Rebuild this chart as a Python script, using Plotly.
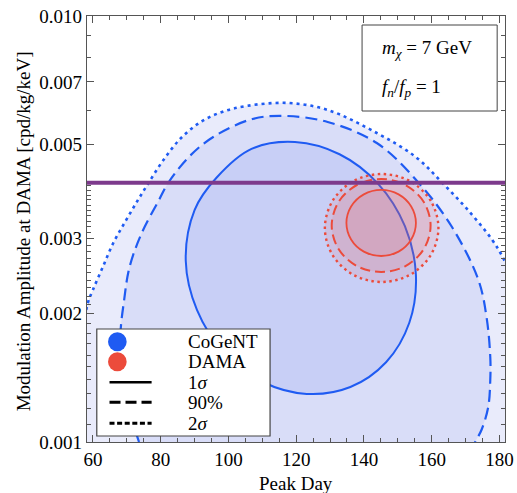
import plotly.graph_objects as go

# ---------------- data ----------------
# CoGeNT 2-sigma contour (peak day, modulation amplitude [cpd/kg/keV])
cogent_2s_day = [119.8, 50.4, 55.6, 58.5, 59.97, 62.9, 66.0, 69.8, 73.3, 76.4, 80.8, 86.0, 91.8,
                 98.1, 105.3, 117.5, 129.3, 143.8, 155.3, 163.2, 170.7, 177.9, 181.4, 186.3,
                 190.6, 189.2]
cogent_2s_amp = [0.000528, 0.000814, 0.001558, 0.002120, 0.002274, 0.002575, 0.002932, 0.003319,
                 0.003700, 0.004055, 0.004592, 0.005171, 0.005639, 0.005953, 0.006149, 0.006250,
                 0.006018, 0.005313, 0.004667, 0.004055, 0.003504, 0.002979, 0.002674, 0.002154,
                 0.001255, 0.000731]

# CoGeNT 90% contour
cogent_90_day = [122.7, 77.3, 73.6, 70.4, 68.6, 68.1, 69.2, 70.8, 74.4, 79.5, 82.2, 88.3, 95.5,
                 107.1, 116.9, 129.3, 143.8, 156.2, 166.0, 173.8, 176.2, 177.3, 177.3, 176.7,
                 174.7, 172.7, 168.4]
cogent_90_amp = [0.000731, 0.000837, 0.001000, 0.001221, 0.001476, 0.001783, 0.002154, 0.002575,
                 0.003094, 0.003700, 0.004055, 0.004667, 0.005200, 0.005732, 0.005826, 0.005639,
                 0.005033, 0.004055, 0.003196, 0.002401, 0.001965, 0.001583, 0.001398, 0.001208,
                 0.001067, 0.000995, 0.000837]

# CoGeNT 1-sigma contour
cogent_1s_day = [155.35, 152.1, 144.2, 132.8, 119.65, 106.8, 96.4, 90.0, 87.4, 90.7, 98.6, 110.0,
                 123.1, 136.0, 146.6, 153.4]
cogent_1s_amp = [0.002466, 0.003211, 0.004037, 0.004736, 0.005060, 0.004875, 0.004166, 0.003504,
                 0.002660, 0.002043, 0.001625, 0.001385, 0.001297, 0.001346, 0.001541, 0.001905]

# DAMA contours
dama_2s_day = [162.0, 159.74, 153.61, 145.23, 136.85, 130.72, 128.47, 130.72, 136.85, 145.23, 153.61, 159.74]
dama_2s_amp = [0.003179, 0.003679, 0.004096, 0.004257, 0.004096, 0.003679, 0.003179, 0.002748,
               0.002469, 0.002375, 0.002469, 0.002748]
dama_90_day = [159.68, 157.72, 152.38, 145.09, 137.79, 132.46, 130.49, 132.46, 137.79, 145.09, 152.38, 157.72]
dama_90_amp = [0.003223, 0.003654, 0.004006, 0.004144, 0.004006, 0.003654, 0.003223, 0.002842,
               0.002591, 0.002507, 0.002591, 0.002842]
dama_1s_day = [155.35, 153.96, 150.23, 145.09, 139.97, 136.21, 134.83, 136.21, 139.97, 145.09, 150.23, 153.96]
dama_1s_amp = [0.003266, 0.003571, 0.003813, 0.003905, 0.003813, 0.003571, 0.003266, 0.002988,
               0.002798, 0.002733, 0.002798, 0.002988]

# horizontal (purple) line level
purple_level = 0.00406

x_range = [58.24, 181.65]
x_tickvals = [60, 80, 100, 120, 140, 160, 180]
y_tickvals = [0.001, 0.002, 0.003, 0.005, 0.007, 0.010]
y_ticktext = ["0.001", "0.002", "0.003", "0.005", "0.007", "0.010"]
y_minor = [i * 1e-4 for i in range(11, 40) if i not in (20, 30)] + [0.004, 0.006, 0.008, 0.009]

legend_labels = ["CoGeNT", "DAMA", "1<i>σ</i>", "90%", "2<i>σ</i>"]

# ---------------- styling ----------------
W, H = 517, 493
ML, MR, MT, MB = 87, 3, 16, 51
FONT = "Liberation Serif"
BLUE = "#1F5BF2"
RED = "#EC4B3B"
PURPLE = "#7D3A8C"
FRAME = "#555555"


def closed(v):
    return list(v) + [v[0]]


def pxx(x):
    return (x - ML) / (W - ML - MR)


def pxy(y):
    return (H - MB - y) / (H - MT - MB)


fig = go.Figure()

cogent = [
    (cogent_2s_day, cogent_2s_amp, "#E9EBFB", "3px,4px", 2.6),
    (cogent_90_day, cogent_90_amp, "#D9DDF8", "12px,6px", 2.2),
    (cogent_1s_day, cogent_1s_amp, "#C8CFF6", "solid", 2.0),
]
for d, a, fc, dash, w in cogent:
    fig.add_trace(go.Scatter(x=closed(d), y=closed(a), mode="lines", fill="toself",
                             fillcolor=fc, line=dict(color=BLUE, width=w, dash=dash,
                                                     shape="spline", smoothing=1.0),
                             hoverinfo="skip", showlegend=False))

dama = [
    (dama_2s_day, dama_2s_amp, "2.5px,3.5px", 2.4),
    (dama_90_day, dama_90_amp, "10px,5px", 2.0),
    (dama_1s_day, dama_1s_amp, "solid", 1.8),
]
for d, a, dash, w in dama:
    fig.add_trace(go.Scatter(x=closed(d), y=closed(a), mode="lines", fill="toself",
                             fillcolor="rgba(235,90,95,0.13)",
                             line=dict(color=RED, width=w, dash=dash, shape="spline",
                                       smoothing=1.0),
                             hoverinfo="skip", showlegend=False))

# purple horizontal line across the full x range
fig.add_trace(go.Scatter(x=x_range, y=[purple_level, purple_level], mode="lines",
                         line=dict(color=PURPLE, width=4), hoverinfo="skip", showlegend=False))

shapes = []
# info box
shapes.append(dict(type="rect", xref="paper", yref="paper", x0=pxx(368), x1=pxx(506),
                   y0=pxy(111), y1=pxy(25), fillcolor="white", line=dict(color="#444", width=1)))
# legend box
shapes.append(dict(type="rect", xref="paper", yref="paper", x0=pxx(97), x1=pxx(274),
                   y0=pxy(436), y1=pxy(329), fillcolor="white", line=dict(color="#444", width=1.2)))
leg_y = [341.7, 361.7, 382.3, 402.3, 423.3]
for yc, col in zip(leg_y[:2], [BLUE, RED]):
    shapes.append(dict(type="circle", xref="paper", yref="paper", x0=pxx(108.5), x1=pxx(127.5),
                       y0=pxy(yc + 9.5), y1=pxy(yc - 9.5), fillcolor=col, line=dict(width=0)))
for yc, dash in zip(leg_y[2:], ["solid", "11px,5px", "5px,2.6px"]):
    shapes.append(dict(type="line", xref="paper", yref="paper", x0=pxx(110), x1=pxx(153),
                       y0=pxy(yc), y1=pxy(yc),
                       line=dict(color="black", width=3 if dash != "solid" else 2.5, dash=dash)))

ann = []
for yc, lab in zip(leg_y, legend_labels):
    ann.append(dict(xref="paper", yref="paper", x=pxx(188), y=pxy(yc), xanchor="left",
                    yanchor="middle", text=lab, showarrow=False,
                    font=dict(family=FONT, size=19, color="black")))
ann.append(dict(xref="paper", yref="paper", x=pxx(386), y=pxy(49), xanchor="left", yanchor="middle",
                text="<i>m</i><sub><i>χ</i></sub> = 7 GeV", showarrow=False,
                font=dict(family=FONT, size=19, color="black")))
ann.append(dict(xref="paper", yref="paper", x=pxx(386), y=pxy(88), xanchor="left", yanchor="middle",
                text="<i>f</i><sub><i>n</i></sub>/<i>f</i><sub><i>p</i></sub> = 1", showarrow=False,
                font=dict(family=FONT, size=19, color="black")))
ann.append(dict(xref="paper", yref="paper", x=pxx(300.5), y=pxy(483), xanchor="center",
                yanchor="middle", text="Peak Day", showarrow=False,
                font=dict(family=FONT, size=19, color="black")))
ann.append(dict(xref="paper", yref="paper", x=pxx(22), y=pxy(231), xanchor="center",
                yanchor="middle", text="Modulation Amplitude at DAMA [cpd/kg/keV]", textangle=-90,
                showarrow=False, font=dict(family=FONT, size=19, color="black")))

fig.update_layout(
    width=W, height=H, margin=dict(l=ML, r=MR, t=MT, b=MB),
    paper_bgcolor="white", plot_bgcolor="white",
    shapes=shapes, annotations=ann, showlegend=False,
    xaxis=dict(range=x_range, tickmode="array", tickvals=x_tickvals,
               ticks="inside", ticklen=7, tickwidth=1, tickcolor=FRAME,
               ticklabeloverflow="allow",
               minor=dict(dtick=5, tick0=60, ticks="inside", ticklen=4, tickcolor=FRAME),
               showline=True, linecolor=FRAME, linewidth=1.3, mirror="allticks",
               showgrid=False, zeroline=False,
               tickfont=dict(family=FONT, size=19, color="black")),
    yaxis=dict(type="log", range=[-3, -2], tickmode="array", tickvals=y_tickvals,
               ticktext=y_ticktext, ticks="inside", ticklen=7, tickwidth=1, tickcolor=FRAME,
               minor=dict(tickmode="array", tickvals=y_minor, ticks="inside", ticklen=4,
                          tickcolor=FRAME),
               showline=True, linecolor=FRAME, linewidth=1.3, mirror="allticks",
               showgrid=False, zeroline=False,
               tickfont=dict(family=FONT, size=19, color="black")),
)

fig.write_html("out.html")
